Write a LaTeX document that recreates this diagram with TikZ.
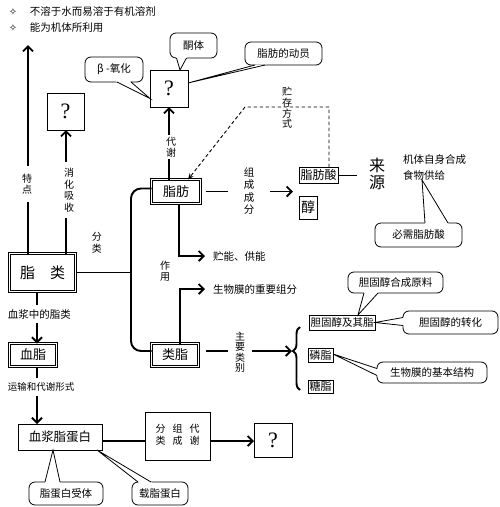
\documentclass[tikz,border=0pt]{standalone}
\usepackage{fontspec}
\setmainfont{Noto Sans CJK SC}
\newfontfamily\symf{DejaVu Sans}
\newfontfamily\qf{Liberation Serif}
\usetikzlibrary{arrows.meta,calc,decorations.pathreplacing}
\newcommand{\ptr}[3]{%
  \fill[white] ($(#1)!-1.6pt!(#3)$) -- (#3) -- ($(#2)!-1.6pt!(#3)$) -- cycle;
  \draw[cline] (#1) -- (#3) -- (#2);}
\begin{document}
\begin{tikzpicture}[x=1pt,y=-1pt,
  every node/.style={inner sep=0pt, outer sep=0pt},
  box/.style={draw, line width=0.8pt},
  dbox/.style={draw, line width=0.8pt, double, double distance=1.8pt, font=\fontsize{13}{13}\selectfont},
  qbox/.style={box, font=\qf\fontsize{22}{22}\selectfont},
  callbox/.style={draw, line width=0.8pt, rounded corners=6pt, fill=white, font=\fontsize{10.5}{12}\selectfont},
  cline/.style={line width=0.8pt, line join=miter},
  main/.style={line width=1.9pt},
  arr/.style={line width=1.9pt, -{Straight Barb[length=5pt,width=10pt]}},
  lab/.style={font=\fontsize{10.5}{12}\selectfont},
  vlab/.style={font=\fontsize{10}{11.5}\selectfont, align=center},
  dashedarrow/.style={line width=0.9pt, dash pattern=on 3.5pt off 2.5pt, -{Stealth[length=6pt,width=5pt]}},
]
\useasboundingbox (0,0) rectangle (500,507);
\fill[white] (0,0) rectangle (500,507);

% top statements
\node[font=\symf\fontsize{10}{10}\selectfont] (d1) at (13,12) {✧};
\node[lab, anchor=west] (t1) at (30,12) {不溶于水而易溶于有机溶剂};
\node[font=\symf\fontsize{10}{10}\selectfont] (d2) at (13,28) {✧};
\node[lab, anchor=west] (t2) at (30,28) {能为机体所利用};

% boxes
\node[qbox, minimum width=37, minimum height=37] (q1) at (65.5,111.5) {?};
\node[qbox, minimum width=38, minimum height=37] (q2) at (169,88.5) {?};
\node[qbox, minimum width=38, minimum height=34] (q3) at (273,440) {?};
\node[dbox, minimum width=66, minimum height=38, font=\fontsize{15}{15}\selectfont] (zl) at (42.5,272.5) {脂\hspace{1em}类};
\node[dbox, minimum width=49, minimum height=24] (zf) at (176,191.5) {脂肪};
\node[dbox, minimum width=47, minimum height=23] (lz) at (175,355) {类脂};
\node[dbox, minimum width=47, minimum height=23] (xz) at (33,355) {血脂};
\node[box, minimum width=84, minimum height=26, font=\fontsize{12.5}{12.5}\selectfont] (xjz) at (60,437) {血浆脂蛋白};
\node[box, minimum width=65, minimum height=48, font=\fontsize{10}{12}\selectfont] (flz) at (177.5,436)
  {\begin{tabular}{@{}c@{\hspace{7pt}}c@{\hspace{7pt}}c@{}}分&组&代\\类&成&谢\end{tabular}};
\node[box, minimum width=39, minimum height=16, font=\fontsize{12}{12}\selectfont] (zfs) at (318.5,175) {脂肪酸};
\node[box, minimum width=18, minimum height=23, font=\fontsize{14}{14}\selectfont] (chun) at (308,207.5) {醇};
\node[box, minimum width=66, minimum height=15, font=\fontsize{10.5}{10.5}\selectfont] (dgc) at (342,322.5) {胆固醇及其脂};
\node[box, minimum width=25, minimum height=14, font=\fontsize{11}{11}\selectfont] (lin) at (320.5,355) {磷脂};
\node[box, minimum width=25, minimum height=13, font=\fontsize{11}{11}\selectfont] (tang) at (320.5,386.5) {糖脂};

% labels
\node[vlab, inner ysep=8pt] (td) at (27,184) {特\\点};
\node[vlab, inner ysep=6pt] (xh) at (69,190) {消\\化\\吸\\收};
\node[vlab] (fl) at (97,243) {分\\类};
\node[vlab, inner ysep=2pt] (dx) at (171,147) {代\\谢};
\node[vlab, font=\fontsize{10}{10.8}\selectfont] (zcfs) at (287,108) {贮\\存\\方\\式};
\node[vlab, font=\fontsize{10.5}{12.5}\selectfont, inner xsep=16pt] (zcf) at (249,191) {组\\成\\成\\分};
\node[align=center, font=\fontsize{16}{17}\selectfont] (ly) at (377,174) {来\\源};
\node[lab, anchor=west] (jt) at (403,160) {机体自身合成};
\node[lab, anchor=west] (sw) at (403,175) {食物供给};
\node[lab, anchor=west] (zn) at (213,256) {贮能、供能};
\node[vlab] (zy) at (165,271) {作\\用};
\node[lab, anchor=west] (sm) at (213,289) {生物膜的重要组分};
\node[vlab, font=\fontsize{10}{10.5}\selectfont, inner xsep=7pt] (zylb) at (240,352) {主\\要\\类\\别};
\node[lab, anchor=west, inner ysep=4pt] (xzl) at (8,314) {血浆中的脂类};
\node[anchor=west, inner ysep=5pt, font=\fontsize{9.5}{10}\selectfont] (ys) at (8,387) {运输和代谢形式};

% coordinates
\coordinate (tdx) at (28,45);
\coordinate (xhx) at (66,0);
\coordinate (trunk) at (131,272.5);
\coordinate (dk) at (245,107);
\coordinate (zcend) at (293,0);
\coordinate (btip) at (292,351);
\coordinate (bra) at (300,390);
\coordinate (brb) at (300,327);
\coordinate (col) at (37,0);

% connectors
\draw[main] (zl.north -| tdx) -- (tdx |- td.south);
\draw[arr] (tdx |- td.north) -- (tdx);
\draw[main] (zl.north -| xhx) -- (xhx |- xh.south);
\draw[arr] (xhx |- xh.north) -- (xhx |- q1.south);
\draw[main] (zl.east) -- (trunk);
\draw[main, rounded corners=10pt] ([yshift=3pt]zf.west) -| (trunk) |- ([yshift=4pt]lz.west);
\draw[main] (q2.south |- zf.north) -- (q2.south |- dx.south);
\draw[arr] (q2.south |- dx.north) -- (q2.south);
\draw[dashedarrow] ([xshift=10.5pt]zfs.north) |- (dk) -- ([xshift=12pt]zf.north);
\draw[main] ([xshift=5pt]zf.east) -- (zcf.west |- zf.east);
\draw[arr] (zcf.east |- zf.east) -- (zcend |- zf.east);
\draw[cline] (zfs.east) -- ++(19,0);
\draw[arr] ([xshift=3pt]zf.south) |- ([xshift=-8pt]zn.west);
\draw[arr] ([xshift=5pt]lz.north) |- ([xshift=-8pt]sm.west);
\draw[main] ([xshift=7pt,yshift=4pt]lz.east) -- (zylb.west |- btip);
\draw[arr] (zylb.east |- btip) -- (btip);
\draw[line width=1.9pt, decorate, decoration={brace, amplitude=7pt, aspect=0.62}] (bra) -- (brb);
\draw[main] (col |- zl.south) -- (col |- xzl.north);
\draw[arr] (col |- xzl.south) -- (col |- xz.north);
\draw[main] (col |- xz.south) -- (col |- ys.north);
\draw[arr] (col |- ys.south) -- (col |- xjz.north);
\draw[main] ([yshift=-4pt]xjz.east) -- ([yshift=-4pt]xjz.east -| flz.west);
\draw[arr] ([yshift=-4pt]xjz.east -| flz.east) -- ([yshift=-4pt]xjz.east -| q3.west);

% callouts
\node[callbox, minimum width=58, minimum height=25] (cb) at (114,69.5) {β -氧化};
\node[callbox, minimum width=47, minimum height=25] (ct) at (193.5,45.5) {酮体};
\node[callbox, minimum width=77, minimum height=23] (cd) at (283.5,53.5) {脂肪的动员};
\node[callbox, minimum width=87, minimum height=24] (cbx) at (418.5,235) {必需脂肪酸};
\node[callbox, minimum width=95, minimum height=21] (cgy) at (395.5,282.5) {胆固醇合成原料};
\node[callbox, minimum width=95, minimum height=23] (czh) at (450.5,322.5) {胆固醇的转化};
\node[callbox, minimum width=110, minimum height=21] (csw) at (432,372.5) {生物膜的基本结构};
\node[callbox, minimum width=74, minimum height=23] (cr) at (66,493.5) {脂蛋白受体};
\node[callbox, minimum width=56, minimum height=23] (czz) at (160,493.5) {载脂蛋白};

\path ([xshift=3pt]cb.south) coordinate (cb1) ([xshift=17pt]cb.south) coordinate (cb2) ([yshift=-10pt]q2.west) coordinate (cbt);
\ptr{cb1}{cb2}{cbt}
\path ([xshift=-17pt]ct.south) coordinate (ct1) ([xshift=-7pt]ct.south) coordinate (ct2) ([xshift=11pt]q2.north) coordinate (ctt);
\ptr{ct1}{ct2}{ctt}
\path ([xshift=-28.5pt]cd.south) coordinate (cd1) ([xshift=-18.5pt]cd.south) coordinate (cd2) ([yshift=5.5pt]q2.east) coordinate (cdt);
\ptr{cd1}{cd2}{cdt}
\path ([xshift=6.5pt]cbx.north) coordinate (cx1) ([xshift=29.5pt]cbx.north) coordinate (cx2) ([xshift=-2pt]sw.south) coordinate (cxt);
\ptr{cx1}{cx2}{cxt}
\path ([xshift=-31.5pt]cgy.south) coordinate (cg1) ([xshift=-17.5pt]cgy.south) coordinate (cg2) ([xshift=16pt]dgc.north) coordinate (cgt);
\ptr{cg1}{cg2}{cgt}
\path ([yshift=5pt]czh.west) coordinate (cz1) ([yshift=-3pt]czh.west) coordinate (cz2) (dgc.east) coordinate (czt);
\ptr{cz1}{cz2}{czt}
\path ([yshift=4pt]csw.west) coordinate (cs1) ([yshift=-3pt]csw.west) coordinate (cs2) ([yshift=1pt]lin.east) coordinate (cst);
\ptr{cs1}{cs2}{cst}
\path ([xshift=-21pt]cr.north) coordinate (cr1) ([xshift=-6pt]cr.north) coordinate (cr2) ([xshift=-7pt]xjz.south) coordinate (crt);
\ptr{cr1}{cr2}{crt}
\path ([xshift=-22pt]czz.north) coordinate (cy1) ([xshift=-9pt]czz.north) coordinate (cy2) ([xshift=37pt]xjz.south) coordinate (cyt);
\ptr{cy1}{cy2}{cyt}
\end{tikzpicture}
\end{document}
